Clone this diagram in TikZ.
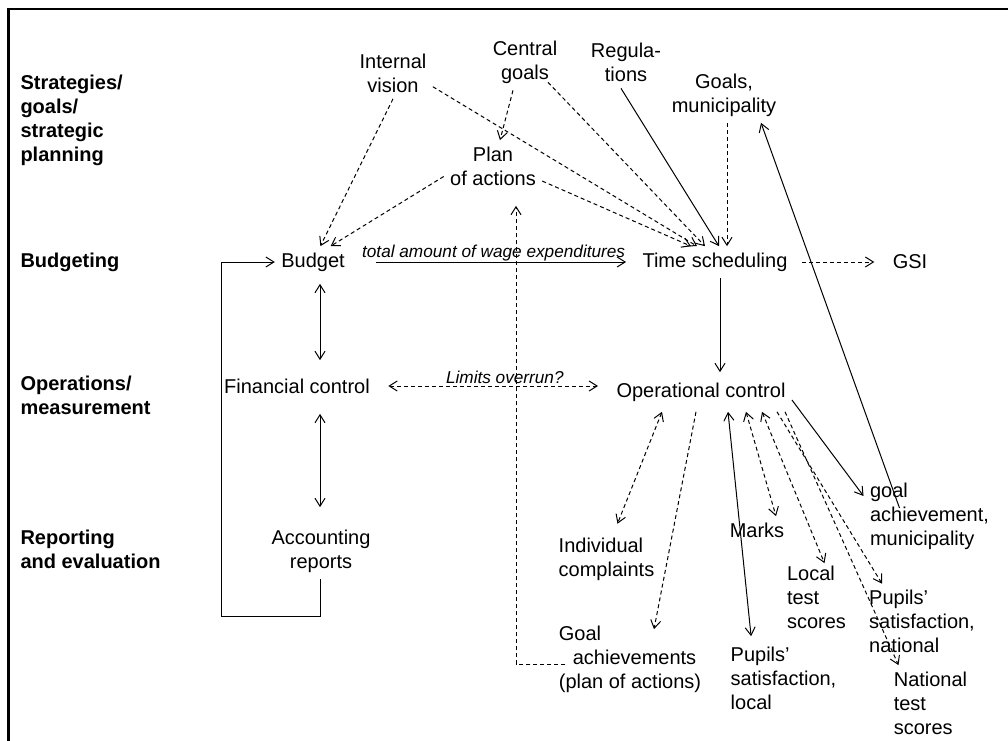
\documentclass[tikz,border=0pt]{standalone}
\usepackage{fontspec}
\setmainfont{Liberation Sans}
\usetikzlibrary{arrows.meta}

\begin{document}
\begin{tikzpicture}[x=0.5pt,y=-0.5pt,line width=0.5pt,
    >={Straight Barb[length=4pt,width=5pt]},
    every node/.style={font=\fontsize{10}{12}\selectfont,inner sep=3pt},
    lvl/.style={font=\fontsize{10}{12}\selectfont\bfseries,align=left,anchor=west,inner sep=0pt},
    itm/.style={align=center},
    itml/.style={align=left},
    dsh/.style={dash pattern=on 2pt off 1.5pt},
    tag/.style={font=\fontsize{8.6}{10}\selectfont\itshape,inner sep=0pt}]
      \useasboundingbox (0,0) rectangle (1008,740);
      \draw[line width=1.3pt] (8.5,9) rectangle (1100,800);

      \node[lvl] (lstrat) at (20,120) {Strategies/\\goals/\\strategic\\planning};
      \node[lvl] (lbudg) at (20,262) {Budgeting};
      \node[lvl] (loper) at (20,395) {Operations/\\measurement};
      \node[lvl] (lrep) at (20,549.5) {Reporting\\and evaluation};

      \node[itm] (ivis) at (393,73) {Internal\\vision};
      \node[itm] (cgoal) at (525,62.5) {Central\\goals};
      \node[itm] (regs) at (626,62.5) {Regula-\\tions};
      \node[itm] (gmun) at (724,95) {Goals,\\municipality};
      \node[itm] (plan) at (493,166) {Plan\\of actions};
      \node (budget) at (313,262) {Budget};
      \node (tsch) at (715,262) {Time scheduling};
      \node (gsi) at (910,262) {GSI};
      \node (fctrl) at (297,386) {Financial control};
      \node[inner ysep=5pt] (octrl) at (701,392) {Operational control};
      \node[itm] (acc) at (321,551) {Accounting\\reports};
      \node[itml] (indiv) at (606.5,559) {Individual\\complaints};
      \node[itml] (gach) at (630,659) {Goal\\\hspace*{7pt}achievements\\(plan of actions)};
      \node (marks) at (757,530) {Marks};
      \node[itml] (psl) at (783.5,678) {Pupils'\\satisfaction,\\local};
      \node[itml] (lts) at (816.5,597) {Local\\test\\scores};
      \node[itml] (gam) at (929.5,516) {goal\\achievement,\\municipality};
      \node[itml] (psn) at (922,621.5) {Pupils'\\satisfaction,\\national};
      \node[itml] (nts) at (930.5,703) {National\\test\\scores};

      \draw[->,dsh] (ivis.south) -- (budget.65);
      \draw[->,dsh] (plan.192) -- (budget.42);
      \draw[->,dsh] (ivis.-19) -- ([xshift=-9pt]tsch.north);
      \draw[->,dsh] ([xshift=-6pt]cgoal.south) -- ([xshift=3.5pt]plan.north);
      \draw[->,dsh] ([xshift=11.5pt,yshift=4pt]cgoal.south) -- ([xshift=-5pt]tsch.north);
      \draw[->,dsh] (plan.-17) -- ([xshift=-12pt]tsch.north);
      \draw[->] ([xshift=-2.5pt]regs.south) -- ([xshift=2pt]tsch.north);
      \draw[->,dsh] ([xshift=1.5pt]gmun.south) -- ([xshift=6pt]tsch.north);

      \draw[->,shorten <=12.5pt,shorten >=5pt] (budget) -- node[tag,above] {total amount of wage expenditures} (tsch);
      \draw[->,dsh,shorten <=4pt,shorten >=6pt] (tsch) -- (gsi);
      \draw[->] ([xshift=2.5pt]tsch.south) -- ([xshift=9.5pt]octrl.north);
      \draw[<->,dsh,shorten <=6pt,shorten >=6pt] (fctrl.east) -- node[tag,above,yshift=1pt,pos=0.55] {Limits overrun?} (fctrl.east -| octrl.west);

      \draw[<->,shorten <=3pt,shorten >=6pt] ([xshift=3.5pt]budget.south) -- ([xshift=11.5pt]fctrl.north);
      \draw[<->,shorten <=7pt,shorten >=8pt] ([xshift=11.5pt]fctrl.south) -- ([xshift=-0.5pt]acc.north);
      \draw[->] ([xshift=-0.5pt]acc.south) -- ++(0,38) -- ++(-99,0) |- (budget.west);

      \draw[->,dsh,shorten >=7pt] ([xshift=6.5pt,yshift=-2.5pt]gach.west) -| ([xshift=11.5pt]plan.south);
      \draw[->,dsh] ([xshift=-2.5pt]octrl.south) -- ([xshift=12pt,yshift=-5pt]gach.north);
      \draw[<->,dsh,shorten >=4pt] ([xshift=-19.5pt]octrl.south) -- ([xshift=4pt]indiv.north);
      \draw[<->,shorten >=2pt] ([xshift=13.5pt]octrl.south) -- ([xshift=-16pt]psl.north);
      \draw[<->,dsh] ([xshift=22.5pt]octrl.south) -- ([xshift=9.5pt]marks.north);
      \draw[<->,dsh] ([xshift=30.5pt]octrl.south) -- ([xshift=4pt,yshift=-2pt]lts.north);
      \draw[->,dsh] ([xshift=38pt]octrl.south) -- ([xshift=-20pt]psn.north);
      \draw[->,dsh] ([xshift=42pt]octrl.south) -- ([xshift=-16pt]nts.north);
      \draw[->] ([yshift=-4pt]octrl.east) -- ([yshift=10pt]gam.west);
      \draw[->] ([xshift=-15pt,yshift=4pt]gam.center) -- ([xshift=18.5pt]gmun.south);
\end{tikzpicture}
\end{document}
